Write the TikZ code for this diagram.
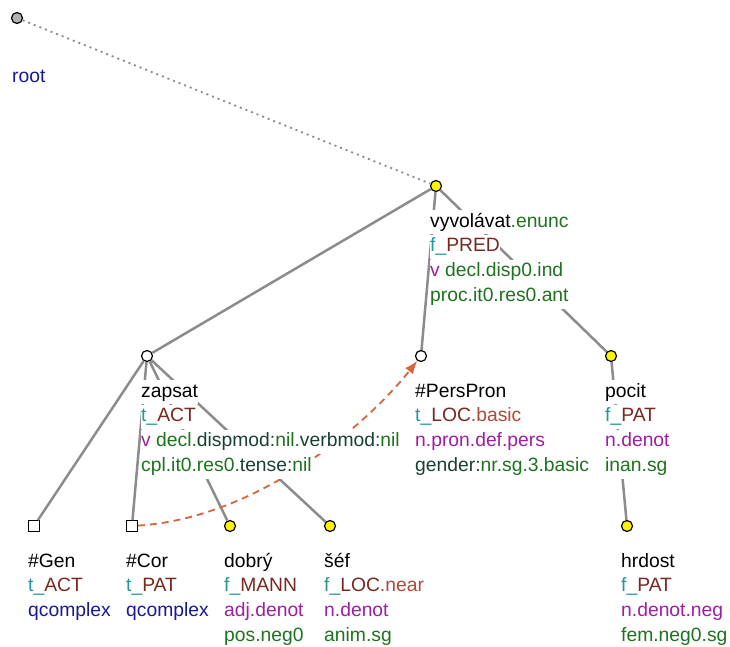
\documentclass[tikz,border=0pt]{standalone}
\usepackage{fontspec}
\setmainfont{Liberation Sans}
\usetikzlibrary{arrows.meta,positioning}
\definecolor{edgegray}{RGB}{140,140,140}
\definecolor{tfun}{RGB}{40,150,150}
\definecolor{func}{RGB}{120,40,30}
\definecolor{fsub}{RGB}{170,75,55}
\definecolor{nblue}{RGB}{25,25,150}
\definecolor{gram}{RGB}{160,30,160}
\definecolor{gval}{RGB}{30,115,30}
\definecolor{gkey}{RGB}{25,65,50}
\definecolor{corefcol}{RGB}{215,100,60}
\tikzset{tnode/.style={circle,draw,line width=1.2pt,inner sep=0pt,minimum size=11pt},
  yel/.style={tnode,fill=yellow},
  wht/.style={tnode,fill=white},
  rootnode/.style={tnode,fill=black!30},
  sq/.style={rectangle,draw,line width=1.2pt,fill=white,inner sep=0pt,minimum size=10.5pt},
  edg/.style={draw=edgegray,line width=2.5pt},
  lbl/.style={inner sep=0pt,fill=white,text height=17pt,text depth=7.4pt,font=\fontsize{19.3pt}{24pt}\selectfont}}

\begin{document}
\begin{tikzpicture}[x=1pt,y=-1pt]
\useasboundingbox (0,0) rectangle (730,647);
% tree nodes
\node[rootnode] (root) at (17,18) {};
\node[yel] (vyv) at (436,186) {};
\node[wht] (zap) at (147,356) {};
\node[wht] (pers) at (421,356) {};
\node[yel] (pocit) at (611,356) {};
\node[sq] (gen) at (34,526) {};
\node[sq] (cor) at (132,526) {};
\node[yel] (dobry) at (230,526) {};
\node[yel] (sef) at (330,526) {};
\node[yel] (hrd) at (627,526) {};
% edges
\draw[edgegray,line width=1.8pt,dash pattern=on 2pt off 4pt] (root) -- (vyv);
\path[edg] (vyv) -- (zap) (vyv) -- (pers) (vyv) -- (pocit)
  (zap) -- (gen) (zap) -- (cor) (zap) -- (dobry) (zap) -- (sef)
  (pocit) -- (hrd);
% coreference
\draw[corefcol,line width=1.8pt,dash pattern=on 7pt off 5pt,-{Latex[length=13pt,width=10pt]}]
  (cor) .. controls +(125,-8) and +(-55,70) .. (pers);
% labels
\node[lbl,text=nblue,below right=65pt and -5pt of root.center,anchor=base west] (root1) {root};

\node[lbl,below right=41pt and -6pt of vyv.center,anchor=base west] (vyv1) {vyvolávat\textcolor{gval}{.enunc}};
\node[lbl,below=0pt of vyv1.south west,anchor=north west] (vyv2) {\textcolor{tfun}{f\_}\textcolor{func}{PRED}};
\node[lbl,below=0pt of vyv2.south west,anchor=north west] (vyv3) {\textcolor{gram}{v} \textcolor{gval}{decl.disp0.ind}};
\node[lbl,text=gval,below=0pt of vyv3.south west,anchor=north west] (vyv4) {proc.it0.res0.ant};

\node[lbl,below right=41pt and -6pt of zap.center,anchor=base west] (zap1) {zapsat};
\node[lbl,below=0pt of zap1.south west,anchor=north west] (zap2) {\textcolor{tfun}{t\_}\textcolor{func}{ACT}};
\node[lbl,below=0pt of zap2.south west,anchor=north west] (zap3) {\textcolor{gram}{v} \textcolor{gval}{decl.}\textcolor{gkey}{dispmod:}\textcolor{gval}{nil.}\textcolor{gkey}{verbmod:}\textcolor{gval}{nil}};
\node[lbl,below=0pt of zap3.south west,anchor=north west] (zap4) {\textcolor{gval}{cpl.it0.res0.}\textcolor{gkey}{tense:}\textcolor{gval}{nil}};

\node[lbl,below right=41pt and -6pt of pers.center,anchor=base west] (pers1) {\#PersPron};
\node[lbl,below=0pt of pers1.south west,anchor=north west] (pers2) {\textcolor{tfun}{t\_}\textcolor{func}{LOC}\textcolor{fsub}{.basic}};
\node[lbl,text=gram,below=0pt of pers2.south west,anchor=north west] (pers3) {n.pron.def.pers};
\node[lbl,below=0pt of pers3.south west,anchor=north west] (pers4) {\textcolor{gkey}{gender:}\textcolor{gval}{nr.sg.3.basic}};

\node[lbl,below right=41pt and -6pt of pocit.center,anchor=base west] (pocit1) {pocit};
\node[lbl,below=0pt of pocit1.south west,anchor=north west] (pocit2) {\textcolor{tfun}{f\_}\textcolor{func}{PAT}};
\node[lbl,text=gram,below=0pt of pocit2.south west,anchor=north west] (pocit3) {n.denot};
\node[lbl,text=gval,below=0pt of pocit3.south west,anchor=north west] (pocit4) {inan.sg};

\node[lbl,below right=41pt and -6pt of gen.center,anchor=base west] (gen1) {\#Gen};
\node[lbl,below=0pt of gen1.south west,anchor=north west] (gen2) {\textcolor{tfun}{t\_}\textcolor{func}{ACT}};
\node[lbl,text=nblue,below=0pt of gen2.south west,anchor=north west] (gen3) {qcomplex};

\node[lbl,below right=41pt and -6pt of cor.center,anchor=base west] (cor1) {\#Cor};
\node[lbl,below=0pt of cor1.south west,anchor=north west] (cor2) {\textcolor{tfun}{t\_}\textcolor{func}{PAT}};
\node[lbl,text=nblue,below=0pt of cor2.south west,anchor=north west] (cor3) {qcomplex};

\node[lbl,below right=41pt and -6pt of dobry.center,anchor=base west] (dobry1) {dobrý};
\node[lbl,below=0pt of dobry1.south west,anchor=north west] (dobry2) {\textcolor{tfun}{f\_}\textcolor{func}{MANN}};
\node[lbl,text=gram,below=0pt of dobry2.south west,anchor=north west] (dobry3) {adj.denot};
\node[lbl,text=gval,below=0pt of dobry3.south west,anchor=north west] (dobry4) {pos.neg0};

\node[lbl,below right=41pt and -6pt of sef.center,anchor=base west] (sef1) {šéf};
\node[lbl,below=0pt of sef1.south west,anchor=north west] (sef2) {\textcolor{tfun}{f\_}\textcolor{func}{LOC}\textcolor{fsub}{.near}};
\node[lbl,text=gram,below=0pt of sef2.south west,anchor=north west] (sef3) {n.denot};
\node[lbl,text=gval,below=0pt of sef3.south west,anchor=north west] (sef4) {anim.sg};

\node[lbl,below right=41pt and -6pt of hrd.center,anchor=base west] (hrd1) {hrdost};
\node[lbl,below=0pt of hrd1.south west,anchor=north west] (hrd2) {\textcolor{tfun}{f\_}\textcolor{func}{PAT}};
\node[lbl,text=gram,below=0pt of hrd2.south west,anchor=north west] (hrd3) {n.denot.neg};
\node[lbl,text=gval,below=0pt of hrd3.south west,anchor=north west] (hrd4) {fem.neg0.sg};
\end{tikzpicture}
\end{document}
